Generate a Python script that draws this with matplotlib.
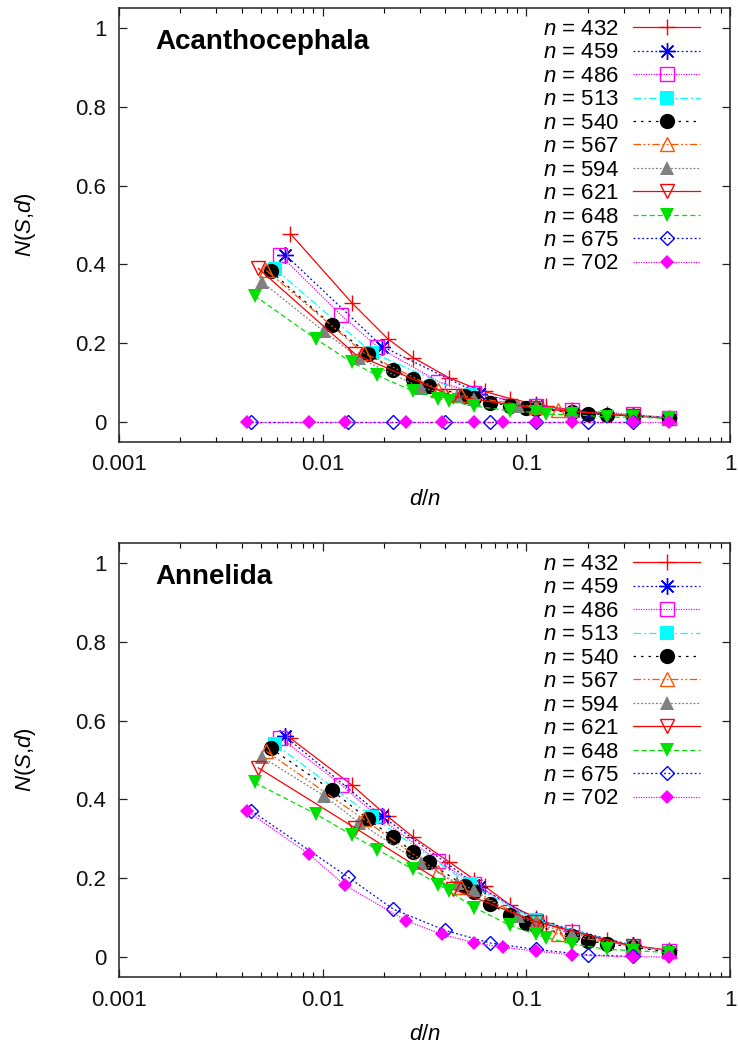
import numpy as np
import matplotlib
matplotlib.use("Agg")
import matplotlib.pyplot as plt

plt.rcParams['font.family'] = ['Liberation Sans', 'DejaVu Sans']
plt.rcParams['mathtext.fontset'] = 'custom'
plt.rcParams['mathtext.rm'] = 'Liberation Sans'
plt.rcParams['mathtext.it'] = 'Liberation Sans:italic'

# ---- data ----
n_values = [432, 459, 486, 513, 540, 567, 594, 621, 648, 675, 702]

d_432 = [3, 6, 9, 12, 18, 24, 27, 36, 48, 54, 72, 108, 144, 216]
d_459 = [3, 9, 27, 51, 153]
d_486 = [3, 6, 9, 18, 27, 54, 81, 162, 243]
d_513 = [3, 9, 27, 57, 171]
d_540 = [3, 6, 9, 12, 15, 18, 27, 30, 36, 45, 54, 60, 90, 108, 135, 180, 270]
d_567 = [3, 9, 21, 27, 63, 81, 189]
d_594 = [3, 6, 9, 18, 27, 33, 54, 66, 99, 198, 297]
d_621 = [3, 9, 27, 69, 207]
d_648 = [3, 6, 9, 12, 18, 24, 27, 36, 54, 72, 81, 108, 162, 216, 324]
d_675 = [3, 9, 15, 27, 45, 75, 135, 225]
d_702 = [3, 6, 9, 18, 27, 39, 54, 78, 117, 234, 351]

# Acanthocephala
acan_432 = [0.478, 0.303, 0.212, 0.164, 0.113, 0.087, 0.078, 0.060, 0.046, 0.041, 0.031, 0.022, 0.016, 0.010]
acan_459 = [0.425, 0.192, 0.072, 0.040, 0.015]
acan_486 = [0.424, 0.271, 0.192, 0.103, 0.075, 0.042, 0.032, 0.020, 0.012]
acan_513 = [0.388, 0.176, 0.068, 0.037, 0.015]
acan_540 = [0.383, 0.246, 0.174, 0.133, 0.109, 0.093, 0.067, 0.062, 0.050, 0.042, 0.037, 0.034, 0.025, 0.022, 0.019, 0.017, 0.012]
acan_567 = [0.385, 0.176, 0.083, 0.068, 0.038, 0.030, 0.016]
acan_594 = [0.355, 0.231, 0.162, 0.088, 0.066, 0.058, 0.042, 0.038, 0.028, 0.017, 0.012]
acan_621 = [0.390, 0.172, 0.066, 0.036, 0.015]
acan_648 = [0.321, 0.211, 0.152, 0.119, 0.079, 0.060, 0.054, 0.041, 0.029, 0.025, 0.020, 0.020, 0.013, 0.013, 0.010]
acan_675 = [0, 0, 0, 0, 0, 0, 0, 0]
acan_702 = [0, 0, 0, 0, 0, 0, 0, 0, 0, 0, 0]

# Annelida
anne_432 = [0.555, 0.437, 0.357, 0.305, 0.242, 0.197, 0.180, 0.132, 0.100, 0.088, 0.067, 0.043, 0.030, 0.018]
anne_459 = [0.560, 0.357, 0.178, 0.095, 0.030]
anne_486 = [0.557, 0.437, 0.358, 0.243, 0.185, 0.093, 0.063, 0.026, 0.017]
anne_513 = [0.540, 0.356, 0.185, 0.094, 0.028]
anne_540 = [0.530, 0.423, 0.350, 0.304, 0.268, 0.241, 0.180, 0.165, 0.135, 0.106, 0.088, 0.080, 0.053, 0.042, 0.034, 0.026, 0.013]
anne_567 = [0.522, 0.350, 0.216, 0.177, 0.090, 0.058, 0.029]
anne_594 = [0.507, 0.410, 0.341, 0.238, 0.189, 0.170, 0.104, 0.086, 0.060, 0.028, 0.018]
anne_621 = [0.480, 0.327, 0.173, 0.090, 0.028]
anne_648 = [0.443, 0.363, 0.310, 0.273, 0.223, 0.184, 0.168, 0.126, 0.081, 0.058, 0.050, 0.034, 0.020, 0.017, 0.012]
anne_675 = [0.372, 0.203, 0.122, 0.068, 0.036, 0.020, 0.006, 0.002]
anne_702 = [0.370, 0.262, 0.183, 0.093, 0.058, 0.037, 0.025, 0.016, 0.006, 0.001, 0.001]

panel_titles = ["Acanthocephala", "Annelida"]
x_ticks = [0.001, 0.01, 0.1, 1]
x_ticklabels = ["0.001", "0.01", "0.1", "1"]
y_ticks = [0, 0.2, 0.4, 0.6, 0.8, 1]
y_ticklabels = ["0", "0.2", "0.4", "0.6", "0.8", "1"]

d_lists = [d_432, d_459, d_486, d_513, d_540, d_567, d_594, d_621, d_648, d_675, d_702]
panels = [
    [acan_432, acan_459, acan_486, acan_513, acan_540, acan_567, acan_594, acan_621, acan_648, acan_675, acan_702],
    [anne_432, anne_459, anne_486, anne_513, anne_540, anne_567, anne_594, anne_621, anne_648, anne_675, anne_702],
]

# ---- styles ----
styles = [
    dict(color='#FF0000', marker='+', ms=12, mew=1.0, mfc='none', ls='-'),
    dict(color='#0000FF', marker=(8, 2, 0), ms=12, mew=1.0, mfc='none', ls=(0, (1.5, 2))),
    dict(color='#FF00FF', marker='s', ms=10, mew=1.0, mfc='none', ls=(0, (1, 1))),
    dict(color='#00FFFF', marker='s', ms=10, mew=0, mfc='#00FFFF', ls=(0, (6, 2.5, 1.5, 2.5))),
    dict(color='#000000', marker='o', ms=11, mew=0, mfc='#000000', ls=(0, (2, 4))),
    dict(color='#FF5500', marker='^', ms=10, mew=1.0, mfc='none', ls=(0, (6, 2, 1.5, 2, 1.5, 2))),
    dict(color='#808080', marker='^', ms=10, mew=0, mfc='#808080', ls=(0, (1.5, 1.5))),
    dict(color='#FF0000', marker='v', ms=10, mew=1.0, mfc='none', ls='-'),
    dict(color='#00E000', marker='v', ms=10, mew=0, mfc='#00E000', ls=(0, (4, 2.5))),
    dict(color='#0000FF', marker='D', ms=7.5, mew=1.0, mfc='none', ls=(0, (1.5, 2))),
    dict(color='#FF00FF', marker='D', ms=7.5, mew=0, mfc='#FF00FF', ls=(0, (1, 1))),
]

FS = 16

fig = plt.figure(figsize=(7.38, 10.57), dpi=100)
ax_rects = [
    [119 / 738, 1 - 442 / 1057, 611 / 738, 434 / 1057],
    [119 / 738, 1 - 977 / 1057, 611 / 738, 434 / 1057],
]

for p, (rect, title, ys) in enumerate(zip(ax_rects, panel_titles, panels)):
    ax = fig.add_axes(rect)
    for n, d, y, st in zip(n_values, d_lists, ys, styles):
        x = np.array(d) / n
        st = dict(st)
        ls = st.pop('ls')
        ax.plot(x, y, linestyle=ls, lw=0.9, label=r'$n$ = %d' % n,
                markeredgecolor=st['color'], **st)
    ax.set_xscale('log')
    ax.set_xlim(0.001, 1)
    ax.set_ylim(-0.05, 1.05)
    ax.set_xticks(x_ticks)
    ax.set_xticklabels(x_ticklabels)
    ax.set_yticks(y_ticks)
    ax.set_yticklabels(y_ticklabels)
    ax.xaxis.set_minor_locator(matplotlib.ticker.LogLocator(base=10, subs=np.arange(2, 10)))
    ax.xaxis.set_minor_formatter(matplotlib.ticker.NullFormatter())
    ax.tick_params(axis='both', which='major', direction='in', length=6, width=0.9,
                   top=True, right=True, labelsize=FS, pad=9, colors='#222222',
                   labelcolor='#111111')
    ax.tick_params(axis='both', which='minor', direction='in', length=3.5, width=0.8,
                   top=True, right=True)
    for sp in ax.spines.values():
        sp.set_linewidth(1.1)
        sp.set_color('#222222')
    ax.set_xlabel(r'$d$/$n$', fontsize=FS, labelpad=10)
    ax.set_ylabel(r'$N$($S$,$d$)', fontsize=FS)
    ax.yaxis.set_label_coords(-0.133, 0.5)
    ax.text(0.059, 0.922, title, transform=ax.transAxes, fontsize=20,
            fontweight='bold', ha='left', va='center')
    leg = ax.legend(loc='upper right', bbox_to_anchor=(0.958, 0.985), markerfirst=False,
                    frameon=False, fontsize=FS, handlelength=3.0, handletextpad=0.65,
                    labelspacing=0.11, borderpad=0.2, borderaxespad=0.0, numpoints=1)

fig.savefig('out.png', dpi=100)
